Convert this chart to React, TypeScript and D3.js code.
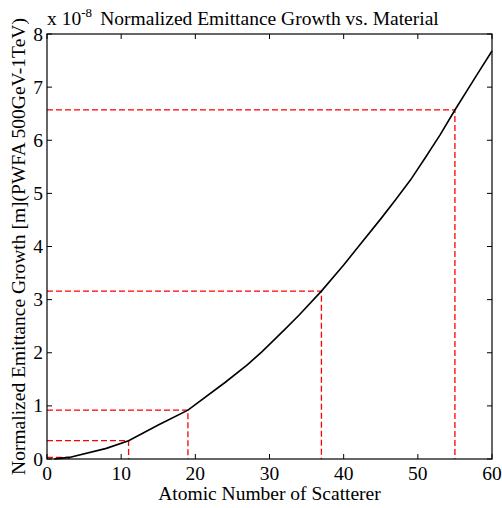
import React from "react";
import * as d3 from "d3";

// atomic number vs normalized emittance growth (x 1e-8)
const curveZ = [1, 3, 8, 11, 15, 19, 24, 27, 29, 32, 34, 37, 40, 42, 45, 47, 49, 51, 53, 55, 58, 60];
const curveVal = [0.003, 0.03, 0.2, 0.345, 0.64, 0.92, 1.44, 1.77, 2.02, 2.43, 2.71, 3.16, 3.65, 4.0, 4.52, 4.88, 5.25, 5.67, 6.1, 6.57, 7.24, 7.68];

// marked materials (Li, Na, K, Rb, Cs)
const markZ = [3, 11, 19, 37, 55];
const markVal = [0.03, 0.345, 0.92, 3.16, 6.57];

const xTicks = [0, 10, 20, 30, 40, 50, 60];
const yTicks = [0, 1, 2, 3, 4, 5, 6, 7, 8];

const W = 502;
const H = 508;
const margin = { left: 47, right: 10, top: 34, bottom: 49 };
const font = "'Liberation Serif', 'Times New Roman', serif";
const fs = 19.5;

export default function App() {
  const x = d3.scaleLinear().domain([0, 60]).range([margin.left, W - margin.right]);
  const y = d3.scaleLinear().domain([0, 8]).range([H - margin.bottom, margin.top]);
  const x0 = x.range()[0], x1 = x.range()[1];
  const y0 = y.range()[0], y1 = y.range()[1];
  const tick = 5;

  const line = d3
    .line<number>()
    .x((_, i) => x(curveZ[i]))
    .y((d) => y(d));

  return (
    <svg
      width={W}
      height={H}
      style={{ position: "absolute", left: 0, top: 0, background: "#fff" }}
      fontFamily={font}
    >
      <rect x={0} y={0} width={W} height={H} fill="#fff" />

      {/* red guide lines */}
      {markZ.map((z, i) => (
        <path
          key={"m" + i}
          d={`M${x(0)},${y(markVal[i])}H${x(z)}V${y(0)}`}
          fill="none"
          stroke="#ff0000"
          strokeWidth={1.3}
          strokeDasharray="6,3"
        />
      ))}

      <path d={line(curveVal) || ""} fill="none" stroke="#000" strokeWidth={1.6} />

      {/* ticks */}
      {xTicks.map((t) => (
        <g key={"xt" + t}>
          <line x1={x(t)} x2={x(t)} y1={y0} y2={y0 - tick} stroke="#000" />
          <line x1={x(t)} x2={x(t)} y1={y1} y2={y1 + tick} stroke="#000" />
          <text x={x(t)} y={y0 + 21} fontSize={fs} textAnchor="middle">
            {t}
          </text>
        </g>
      ))}
      {yTicks.map((t) => (
        <g key={"yt" + t}>
          <line x1={x0} x2={x0 + tick} y1={y(t)} y2={y(t)} stroke="#000" />
          <line x1={x1} x2={x1 - tick} y1={y(t)} y2={y(t)} stroke="#000" />
          <text x={x0 - 4} y={y(t) + 6.5} fontSize={fs} textAnchor="end">
            {t}
          </text>
        </g>
      ))}

      <rect x={x0} y={y1} width={x1 - x0} height={y0 - y1} fill="none" stroke="#000" strokeWidth={1.2} />

      {/* exponent + title */}
      <text x={x0} y={25} fontSize={fs}>
        x 10
        <tspan fontSize={13} dy={-8}>-8</tspan>
      </text>
      <text x={(x0 + x1) / 2} y={25} fontSize={fs} textAnchor="middle">
        Normalized Emittance Growth vs. Material
      </text>

      <text x={(x0 + x1) / 2} y={500} fontSize={fs} textAnchor="middle">
        Atomic Number of Scatterer
      </text>
      <text
        transform={`translate(25,${(y0 + y1) / 2}) rotate(-90)`}
        fontSize={fs}
        textAnchor="middle"
      >
        Normalized Emittance Growth [m](PWFA 500GeV-1TeV)
      </text>
    </svg>
  );
}
